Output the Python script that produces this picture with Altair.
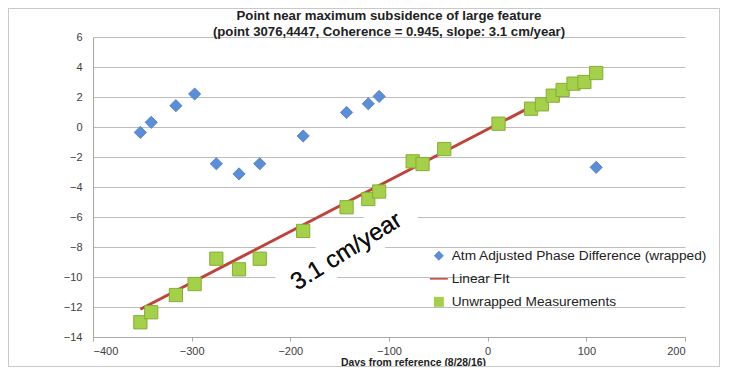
import altair as alt
import pandas as pd

# ---- data ----
wrapped_days = [-352, -341, -316, -297, -275, -252, -231, -187, -143, -121, -110, 110]
wrapped_phase = [-0.36, 0.31, 1.42, 2.2, -2.45, -3.13, -2.45, -0.6, 0.97, 1.55, 2.04, -2.69]

unwrapped_days = [-352, -341, -316, -297, -275, -252, -231, -187, -143, -121, -110,
                  -76, -66, -44, 11, 44, 55, 66, 76, 87, 98, 110]
unwrapped_vals = [-13.02, -12.35, -11.2, -10.47, -8.78, -9.49, -8.78, -6.93, -5.35, -4.8, -4.3,
                  -2.29, -2.47, -1.47, 0.22, 1.22, 1.51, 2.09, 2.47, 2.89, 3.0, 3.6]

fit_days = [-352, 110]
fit_vals = [-12.15, 3.6]

series_names = ["Atm Adjusted Phase Difference (wrapped)", "Linear FIt", "Unwrapped Measurements"]
series_colors = ["#5a8ed8", "#c0433a", "#a5d04a"]
series_shapes = ["diamond", "M-1.8,-0.15L1.8,-0.15L1.8,0.15L-1.8,0.15Z", "square"]

x_ticks = [-400, -300, -200, -100, 0, 100, 200]
y_ticks = [-14, -12, -10, -8, -6, -4, -2, 0, 2, 4, 6]

title_lines = ["Point near maximum subsidence of large feature",
               "(point 3076,4447, Coherence = 0.945, slope: 3.1 cm/year)"]
x_title = "Days from reference (8/28/16)"
annotation = "3.1 cm/year"

FONT = "Liberation Sans"

wrapped_df = pd.DataFrame({"days": wrapped_days, "val": wrapped_phase, "series": series_names[0]})
unwrapped_df = pd.DataFrame({"days": unwrapped_days, "val": unwrapped_vals, "series": series_names[2]})
fit_df = pd.DataFrame({"days": fit_days, "val": fit_vals})

xscale = alt.Scale(domain=[-400, 200], nice=False, zero=False)
yscale = alt.Scale(domain=[-14, 6], nice=False, zero=False)

xaxis = alt.Axis(values=x_ticks, title=x_title, grid=False, titleX=320, titleY=28.5,
                 titleBaseline="alphabetic", titleAnchor="middle", titleAlign="center",
                 titleFontSize=10.4, titleFontWeight="bold", titleColor="#222",
                 tickSize=4, labelPadding=4, domainColor="#a8a8a8", tickColor="#a8a8a8",
                 labelOverlap=False)
yaxis = alt.Axis(values=y_ticks, title=None, grid=True, gridColor="#bdbdbd",
                 ticks=False, labelPadding=11, domainColor="#a8a8a8", labelOverlap=False)

xenc = alt.X("days:Q", scale=xscale, axis=xaxis)
yenc = alt.Y("val:Q", scale=yscale, axis=yaxis)

legend = alt.Legend(title=None, orient="none", legendX=339, legendY=212,
                    labelFont=FONT, labelFontSize=13.7, labelColor="#222",
                    symbolSize=100, labelOffset=6, rowPadding=8, symbolStrokeWidth=0,
                    labelLimit=400)
color_enc = alt.Color("series:N", scale=alt.Scale(domain=series_names, range=series_colors), legend=legend)
shape_enc = alt.Shape("series:N", scale=alt.Scale(domain=series_names, range=series_shapes), legend=legend)

# outer frame (decoration)
frame = alt.Chart(fit_df).mark_rect(fillOpacity=0, stroke="#c9c9c9", strokeWidth=1).encode(
    x=alt.value(-84.5), x2=alt.value(626.5), y=alt.value(-28.5), y2=alt.value(329.5))

# white box behind the annotation, covering gridlines
box = alt.Chart(fit_df).mark_point(
    shape="M-1,-0.24L1,-0.24L1,0.24L-1,0.24Z", filled=True, fill="white", opacity=1,
    strokeWidth=0, size=152 * 152, angle=328).encode(
    x=alt.X(datum=-142, scale=xscale, axis=xaxis), y=alt.Y(datum=-8.15, scale=yscale, axis=yaxis))

fit_line = alt.Chart(fit_df).mark_line(color="#c0433a", strokeWidth=3).encode(x=xenc, y=yenc)

diamonds = alt.Chart(wrapped_df).mark_point(filled=True, size=150, opacity=1,
                                              stroke="#4a7bc0", strokeWidth=0.8).encode(
    x=xenc, y=yenc, color=color_enc, shape=shape_enc)

squares = alt.Chart(unwrapped_df).mark_point(filled=True, size=175, opacity=1,
                                               stroke="#86ad35", strokeWidth=1).encode(
    x=xenc, y=yenc, color=color_enc, shape=shape_enc)

label = alt.Chart(fit_df).mark_text(text=annotation, font=FONT, fontSize=24, angle=328,
                                     align="center", baseline="middle", color="#111").encode(
    x=alt.X(datum=-143, scale=xscale, axis=xaxis), y=alt.Y(datum=-8.3, scale=yscale, axis=yaxis))

chart = alt.layer(frame, box, fit_line, diamonds, squares, label).properties(
    width=592, height=300,
    title=alt.TitleParams(text=title_lines, font=FONT, fontSize=13.2, fontWeight="bold",
                          color="#222", anchor="middle", lineHeight=16, offset=2, dy=33),
    autosize=alt.AutoSizeParams(type="none"),
    padding={"left": 85, "top": 29, "right": 35, "bottom": 30},
).configure_axis(
    labelFont=FONT, labelFontSize=11, labelColor="#404040", titleFont=FONT
).configure_view(stroke=None)

chart.save("out.html", embed_options={"renderer": "svg", "actions": False})
